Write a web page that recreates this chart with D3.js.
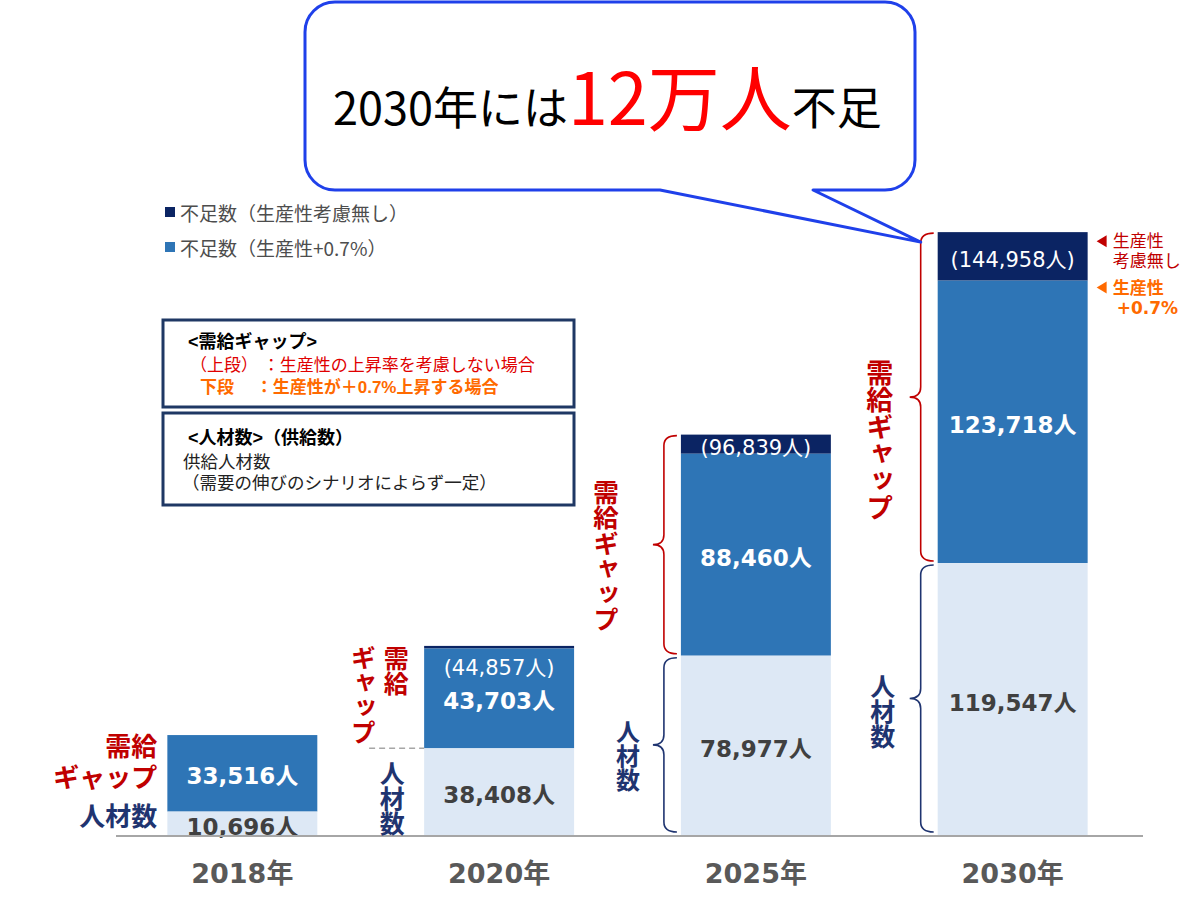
<!DOCTYPE html>
<html lang="ja">
<head>
<meta charset="utf-8">
<script src="https://cdn.jsdelivr.net/npm/d3@7"></script>
<style>
  html, body { margin: 0; padding: 0; background: #fff; }
  svg { display: block; }
  .jp { font-family: "Noto Sans CJK JP", "Noto Sans", sans-serif; }
  .jpl { font-family: "Liberation Sans", "Noto Sans CJK JP", sans-serif; }
  .num { font-family: "DejaVu Sans", "Noto Sans CJK JP", sans-serif; }
</style>
</head>
<body>
<svg id="chart" width="1200" height="914"></svg>
<script>
// ---- データ ----
const years = ["2018年", "2020年", "2025年", "2030年"];
// 人材数（供給数）
const supply = [10696, 38408, 78977, 119547];
// 需給ギャップ（生産性+0.7%）
const gapProductivity = [33516, 43703, 88460, 123718];
// 需給ギャップ（生産性考慮無し）
const gapNoProductivity = [null, 44857, 96839, 144958];

// ---- 色 ----
const COLOR_SUPPLY = "#dde8f5";
const COLOR_GAP = "#2e75b6";
const COLOR_GAP_DARK = "#0b2463";
const COLOR_RED = "#c00000";
const COLOR_NAVY = "#1f3470";
const COLOR_ORANGE = "#ff6a00";
const COLOR_TEXT_GRAY = "#404040";

const svg = d3.select("#chart");
const fmt = d3.format(",");

// ---- スケール ----
const baseY = 836;
const x = d3.scaleBand()
    .domain(years)
    .range([116, 1139])
    .paddingInner(0.416)
    .paddingOuter(0.2);

const y = d3.scaleLinear()
    .domain([0, 265000])
    .range([baseY, 231]);

const rows = years.map((year, i) => ({
    year,
    supply: supply[i],
    gap: gapProductivity[i],
    gapNo: gapNoProductivity[i]
}));

// ---- 棒 ----
const barLayer = svg.append("g").attr("class", "bars");

const bar = barLayer.selectAll("g.bar")
    .data(rows)
    .join("g")
    .attr("class", "bar");

// 生産性考慮無しの上乗せ分（濃紺）
bar.filter(d => d.gapNo != null)
    .append("rect")
    .attr("x", d => x(d.year))
    .attr("width", x.bandwidth())
    .attr("y", d => y(d.supply + d.gapNo))
    .attr("height", d => y(d.supply + d.gap) - y(d.supply + d.gapNo))
    .attr("fill", COLOR_GAP_DARK);

// 需給ギャップ（生産性+0.7%）
bar.append("rect")
    .attr("x", d => x(d.year))
    .attr("width", x.bandwidth())
    .attr("y", d => y(d.supply + d.gap))
    .attr("height", d => y(d.supply) - y(d.supply + d.gap))
    .attr("fill", COLOR_GAP);

// 人材数
bar.append("rect")
    .attr("x", d => x(d.year))
    .attr("width", x.bandwidth())
    .attr("y", d => y(d.supply))
    .attr("height", d => y(0) - y(d.supply))
    .attr("fill", COLOR_SUPPLY);

// ---- 棒内ラベル ----
const cx = d => x(d.year) + x.bandwidth() / 2;

bar.append("text")
    .attr("class", "num")
    .attr("x", cx)
    .attr("y", d => (y(d.supply) + y(d.supply + d.gap)) / 2 + 3)
    .attr("text-anchor", "middle")
    .attr("dominant-baseline", "central")
    .attr("fill", "#fff")
    .style("font-size", "23px")
    .style("font-weight", "bold")
    .text(d => fmt(d.gap) + "人");

bar.append("text")
    .attr("class", "num")
    .attr("x", cx)
    .attr("y", d => (y(d.supply) + y(0)) / 2 + 3)
    .attr("text-anchor", "middle")
    .attr("dominant-baseline", "central")
    .attr("fill", COLOR_TEXT_GRAY)
    .style("font-size", "23px")
    .style("font-weight", "bold")
    .text(d => fmt(d.supply) + "人");

bar.filter(d => d.gapNo != null)
    .append("text")
    .attr("class", "num")
    .attr("x", cx)
    .attr("y", d => {
        const top = y(d.supply + d.gapNo);
        const bottom = y(d.supply + d.gap);
        // 濃紺部分が薄すぎる場合は青部分の上部に表示
        return (bottom - top) < 10 ? top + 22 : (top + bottom) / 2 + 4;
    })
    .attr("text-anchor", "middle")
    .attr("dominant-baseline", "central")
    .attr("fill", "#fff")
    .style("font-size", "21px")
    .text(d => "(" + fmt(d.gapNo) + "人)");

// ---- 横軸 ----
svg.append("line")
    .attr("x1", 116)
    .attr("x2", 1143)
    .attr("y1", baseY)
    .attr("y2", baseY)
    .attr("stroke", "#a6a6a6")
    .attr("stroke-width", 2);

svg.append("g")
    .selectAll("text")
    .data(years)
    .join("text")
    .attr("class", "num")
    .attr("x", d => x(d) + x.bandwidth() / 2)
    .attr("y", 873)
    .attr("text-anchor", "middle")
    .attr("dominant-baseline", "central")
    .attr("fill", "#595959")
    .style("font-size", "27px")
    .style("font-weight", "bold")
    .text(d => d);

// ---- 波括弧 ----
function bracePath(xEnd, xStem, xTip, y0, y1) {
    const ym = (y0 + y1) / 2;
    const r = Math.min(10, (y1 - y0) / 4);
    return `M${xEnd},${y0} Q${xStem},${y0} ${xStem},${y0 + r} L${xStem},${ym - r} ` +
        `Q${xStem},${ym} ${xTip},${ym} Q${xStem},${ym} ${xStem},${ym + r} ` +
        `L${xStem},${y1 - r} Q${xStem},${y1} ${xEnd},${y1}`;
}

const braceLayer = svg.append("g").attr("class", "braces");
rows.filter(d => d.year === "2025年" || d.year === "2030年").forEach(d => {
    const left = x(d.year);
    braceLayer.append("path")
        .attr("d", bracePath(left - 4, left - 17, left - 28, y(d.supply + d.gapNo) + 1, y(d.supply) - 2))
        .attr("fill", "none")
        .attr("stroke", COLOR_RED)
        .attr("stroke-width", 1.6);
    braceLayer.append("path")
        .attr("d", bracePath(left - 4, left - 17, left - 28, y(d.supply) + 2, baseY - 4))
        .attr("fill", "none")
        .attr("stroke", COLOR_NAVY)
        .attr("stroke-width", 1.6);
});

// 2020年の破線
svg.append("line")
    .attr("x1", x("2020年") - 55)
    .attr("x2", x("2020年"))
    .attr("y1", y(supply[1]))
    .attr("y2", y(supply[1]))
    .attr("stroke", "#a6a6a6")
    .attr("stroke-width", 1.5)
    .attr("stroke-dasharray", "6,4");

// ---- 縦書き・横書きラベル ----
// 縦書き（中心座標で配置）
function verticalText(str, cxPos, cyPos, color, size) {
    return svg.append("text")
        .attr("class", "jp")
        .attr("x", cxPos)
        .attr("y", cyPos)
        .attr("text-anchor", "middle")
        .attr("dominant-baseline", "central")
        .style("writing-mode", "vertical-rl")
        .attr("fill", color)
        .style("font-size", size + "px")
        .style("font-weight", "bold")
        .text(str);
}

// 複数行の横書き（行間が詰まるのでLiberation Sansを主フォントに）
function multiText(lines, xPos, yPos, lineH, color, size, anchor, weight) {
    const t = svg.append("text")
        .attr("class", "jpl")
        .attr("text-anchor", anchor || "end")
        .attr("fill", color)
        .style("font-size", size + "px")
        .style("font-weight", weight || "bold");
    lines.forEach((s, i) => {
        t.append("tspan")
            .attr("x", xPos + (s.dx || 0))
            .attr("y", yPos + i * lineH)
            .attr("dominant-baseline", "central")
            .text(s.t || s);
    });
    return t;
}

// 2018年
const l18 = x("2018年");
multiText(["需給", "ギャップ"], l18 - 10, 747, 31, COLOR_RED, 26);
multiText(["人材数"], l18 - 10, 817, 0, COLOR_NAVY, 26);

// 2020年
const l20 = x("2020年");
verticalText("需給", l20 - 28, 671, COLOR_RED, 25);
verticalText("ギャップ", l20 - 61, 695, COLOR_RED, 25);
verticalText("人材数", l20 - 32, 798, COLOR_NAVY, 25);

// 2025年
const l25 = x("2025年");
verticalText("需給ギャップ", l25 - 75, 556, COLOR_RED, 25.5);
verticalText("人材数", l25 - 53, 756, COLOR_NAVY, 24);

// 2030年
const l30 = x("2030年");
verticalText("需給ギャップ", l30 - 58, 440, COLOR_RED, 27);
verticalText("人材数", l30 - 55, 711, COLOR_NAVY, 25);

// 2030年右側の注記
const r30 = x("2030年") + x.bandwidth();
const topNo = y(supply[3] + gapNoProductivity[3]);
const topGap = y(supply[3] + gapProductivity[3]);
svg.append("path")
    .attr("d", `M${r30 + 9},${topNo + 9} L${r30 + 19},${topNo + 3} L${r30 + 19},${topNo + 15} Z`)
    .attr("fill", COLOR_RED);
multiText(["生産性", "考慮無し"], r30 + 25, topNo + 9, 20, COLOR_RED, 17, "start", "normal");
svg.append("path")
    .attr("d", `M${r30 + 9},${topGap + 7} L${r30 + 19},${topGap + 1} L${r30 + 19},${topGap + 13} Z`)
    .attr("fill", COLOR_ORANGE);
multiText(["生産性", { t: "+0.7%", dx: 4 }], r30 + 25, topGap + 7, 20, COLOR_ORANGE, 17, "start", "bold")
    .style("font-family", "'DejaVu Sans', 'Noto Sans CJK JP', sans-serif");

// ---- 凡例 ----
const legendItems = [
    { label: "不足数（生産性考慮無し）", color: COLOR_GAP_DARK },
    { label: "不足数（生産性+0.7%）", color: COLOR_GAP }
];
const legend = svg.append("g").attr("transform", "translate(165,212)");
legend.selectAll("g")
    .data(legendItems)
    .join("g")
    .attr("transform", (d, i) => `translate(0,${i * 35})`)
    .each(function (d) {
        const g = d3.select(this);
        g.append("rect").attr("x", 0).attr("y", -5).attr("width", 10).attr("height", 10).attr("fill", d.color);
        g.append("text")
            .attr("class", "jp")
            .attr("x", 15)
            .attr("y", 0)
            .attr("dominant-baseline", "central")
            .attr("fill", "#4d4d4d")
            .style("font-size", "19px")
            .text(d.label);
    });

// ---- 説明ボックス ----
const boxes = [
    { y: 320, h: 87, lines: [
        { t: "<需給ギャップ>", x: 188, dy: 22, c: "#000", w: "bold", s: 18 },
        { t: "（上段） ：生産性の上昇率を考慮しない場合", x: 190, dy: 45, c: "#e00000", w: "normal", s: 17 },
        { t: "下段　 ：生産性が＋0.7%上昇する場合", x: 200, dy: 67, c: COLOR_ORANGE, w: "bold", s: 17 }
    ] },
    { y: 413, h: 92, lines: [
        { t: "<人材数>（供給数）", x: 188, dy: 25, c: "#000", w: "bold", s: 18 },
        { t: "供給人材数", x: 183, dy: 49, c: "#222", w: "normal", s: 17.5 },
        { t: "（需要の伸びのシナリオによらず一定）", x: 182, dy: 70, c: "#222", w: "normal", s: 17.5 }
    ] }
];
boxes.forEach(b => {
    svg.append("rect")
        .attr("x", 163).attr("y", b.y)
        .attr("width", 411).attr("height", b.h)
        .attr("fill", "#fff")
        .attr("stroke", "#1f3864")
        .attr("stroke-width", 3);
    const t = svg.append("text").attr("class", "jpl");
    b.lines.forEach(l => {
        t.append("tspan")
            .attr("x", l.x)
            .attr("y", b.y + l.dy)
            .attr("dominant-baseline", "central")
            .attr("fill", l.c)
            .style("font-size", l.s + "px")
            .style("font-weight", l.w)
            .text(l.t);
    });
});

// ---- 吹き出し ----
const tipX = x("2030年") - 17;
const tipY = y(supply[3] + gapNoProductivity[3]) + 10;
const bx0 = 305, bx1 = 915, by0 = 2, by1 = 190, br = 30;
const bubble = `M${bx0 + br},${by0} H${bx1 - br} A${br},${br} 0 0 1 ${bx1},${by0 + br} ` +
    `V${by1 - br} A${br},${br} 0 0 1 ${bx1 - br},${by1} H813 L${tipX},${tipY} L660,${by1} ` +
    `H${bx0 + br} A${br},${br} 0 0 1 ${bx0},${by1 - br} V${by0 + br} A${br},${br} 0 0 1 ${bx0 + br},${by0} Z`;
svg.append("path")
    .attr("d", bubble)
    .attr("fill", "#fff")
    .attr("stroke", "#1f40ea")
    .attr("stroke-width", 3)
    .attr("stroke-linejoin", "round");

const title = svg.append("text")
    .attr("class", "jp")
    .attr("x", 333)
    .attr("y", 125)
    .attr("fill", "#000")
    .style("font-size", "45px");
title.append("tspan").text("2030年には");
title.append("tspan").attr("fill", "#ff0000").style("font-size", "72px").text("12万人");
title.append("tspan").text("不足");
</script>
</body>
</html>
